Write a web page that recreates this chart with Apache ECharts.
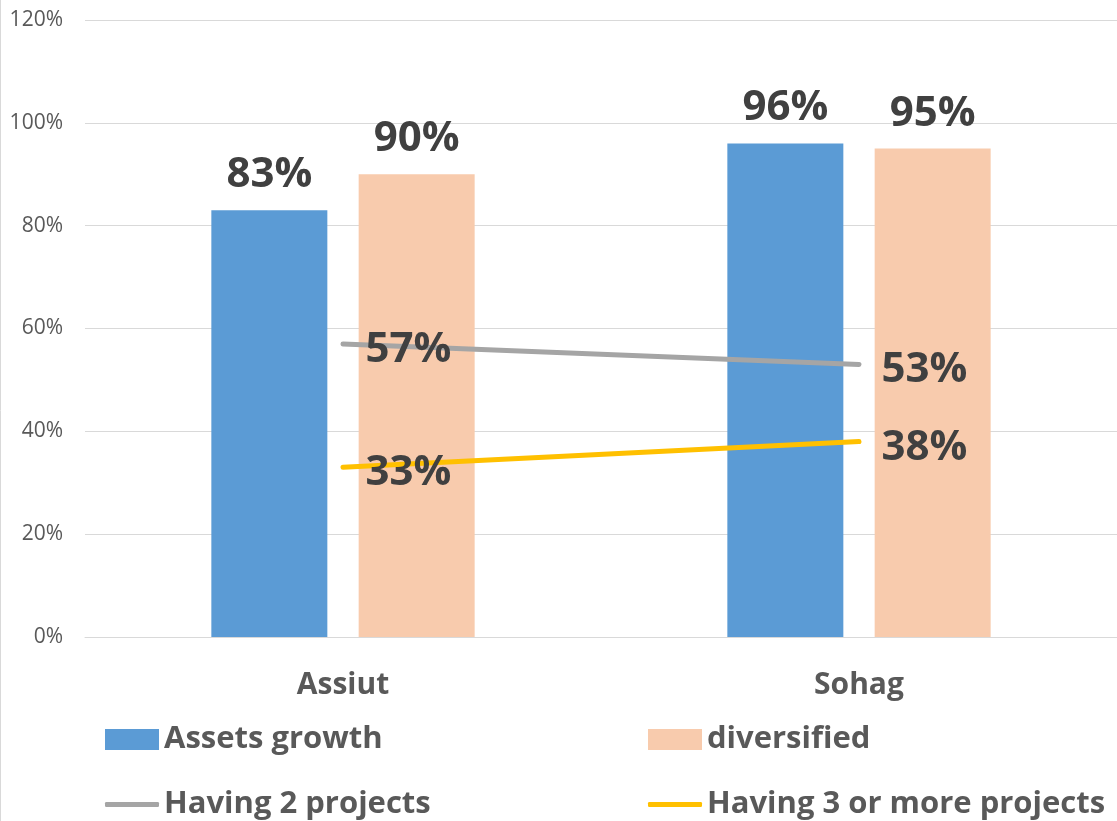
<!DOCTYPE html>
<html>
<head>
<meta charset="utf-8">
<script src="https://cdn.jsdelivr.net/npm/echarts@6/dist/echarts.min.js"></script>
<style>
  html, body { margin: 0; padding: 0; background: #fff; }
  #chart { width: 1117px; height: 821px; }
</style>
</head>
<body>
<div id="chart"></div>
<script>
// categories and values (percent)
const regions = ['Assiut', 'Sohag']
const assetsGrowth = [83, 96]
const diversified = [90, 95]
const twoProjects = [57, 53]
const threeOrMore = [33, 38]

const font = '"Open Sans", "Noto Sans", sans-serif'

const chart = echarts.init(document.getElementById('chart'))

const barLabel = {
  show: true,
  position: 'top',
  distance: 14,
  formatter: '{c}%',
  color: '#404040',
  fontFamily: font,
  fontWeight: 'bold',
  fontSize: 42
}

const lineLabel = {
  show: true,
  position: 'right',
  distance: 22,
  offset: [0, 6],
  formatter: '{c}%',
  color: '#404040',
  fontFamily: font,
  fontWeight: 'bold',
  fontSize: 42
}

const legendText = {
  color: '#595959',
  fontFamily: font,
  fontWeight: 'bold',
  fontSize: 31
}

// one legend block per slot, Excel style 2x2
const makeLegend = (name, left, top, isLine) => ({
  left: left,
  top: top,
  padding: 0,
  itemWidth: 54,
  itemHeight: isLine ? 5 : 21,
  icon: isLine ? 'roundRect' : 'rect',
  itemStyle: { borderWidth: 0 },
  textStyle: legendText,
  data: [name]
})

const option = {
  backgroundColor: '#fff',
  animation: false,
  grid: { left: 85, right: -3, top: 20, bottom: 184 },
  graphic: [{
    type: 'line',
    shape: { x1: 0.5, y1: 0, x2: 0.5, y2: 821 },
    style: { stroke: '#D9D9D9', lineWidth: 1 }
  }],
  legend: [
    makeLegend('Assets growth', 105, 724, false),
    makeLegend('diversified', 648, 724, false),
    makeLegend('Having 2 projects', 105, 789, true),
    makeLegend('Having 3 or more projects', 648, 789, true)
  ],
  xAxis: {
    type: 'category',
    data: regions,
    axisLine: { show: true, lineStyle: { color: '#D9D9D9', width: 1 } },
    axisTick: { show: false },
    axisLabel: {
      margin: 33,
      color: '#595959',
      fontFamily: font,
      fontWeight: 'bold',
      fontSize: 30
    }
  },
  yAxis: {
    type: 'value',
    min: 0,
    max: 120,
    interval: 20,
    axisLine: { show: false },
    axisTick: { show: false },
    splitLine: { lineStyle: { color: '#D9D9D9', width: 1 } },
    axisLabel: {
      formatter: '{value}%',
      margin: 22,
      color: '#595959',
      fontFamily: font,
      fontSize: 21
    }
  },
  series: [
    {
      name: 'Assets growth',
      type: 'bar',
      data: assetsGrowth,
      barWidth: 116,
      barGap: '27%',
      itemStyle: { color: '#5B9BD5' },
      label: barLabel
    },
    {
      name: 'diversified',
      type: 'bar',
      data: diversified,
      barWidth: 116,
      itemStyle: { color: '#F8CBAD' },
      label: barLabel
    },
    {
      name: 'Having 2 projects',
      type: 'line',
      data: twoProjects,
      symbol: 'circle',
      symbolSize: 1,
      lineStyle: { color: '#A5A5A5', width: 5, cap: 'round' },
      itemStyle: { color: '#A5A5A5' },
      label: lineLabel,
      z: 3
    },
    {
      name: 'Having 3 or more projects',
      type: 'line',
      data: threeOrMore,
      symbol: 'circle',
      symbolSize: 1,
      lineStyle: { color: '#FFC000', width: 5, cap: 'round' },
      itemStyle: { color: '#FFC000' },
      label: lineLabel,
      z: 3
    }
  ]
}

chart.setOption(option)
</script>
</body>
</html>
